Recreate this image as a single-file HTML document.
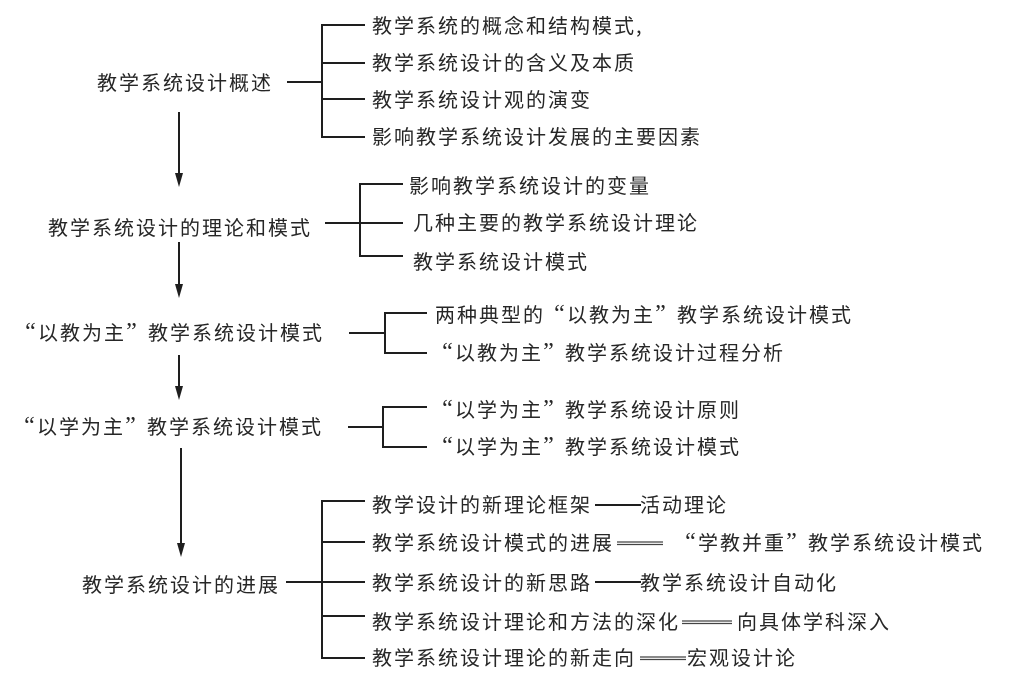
<!DOCTYPE html>
<html>
<head>
<meta charset="utf-8">
<style>
  html, body { margin:0; padding:0; background:#fff; }
  #c { position:relative; width:1026px; height:684px; overflow:hidden; background:#fff; }
  svg { position:absolute; left:0; top:0; }
  .t { position:absolute; white-space:nowrap; font-family:"Noto Sans CJK SC", "WenQuanYi Zen Hei", sans-serif;
       font-size:20px; letter-spacing:2px; line-height:24px; color:#262626; }
  .ql, .qr { display:inline-block; width:22px; height:24px; line-height:24px; letter-spacing:0;
       font-family:"Liberation Serif", serif; font-size:24px; box-sizing:border-box; vertical-align:top; }
  .ql { text-align:center; padding-left:7px; }
  .qr { text-align:center; padding-right:11px; }
</style>
</head>
<body>
<div id="c">
<svg width="1026" height="684" viewBox="0 0 1026 684">
  <g stroke="#1e1e1e" stroke-width="2" fill="none">
    <line x1="287" y1="82" x2="322" y2="82"/>
    <line x1="322" y1="25" x2="322" y2="137"/>
    <line x1="321" y1="25" x2="365" y2="25"/>
    <line x1="321" y1="63" x2="365" y2="63"/>
    <line x1="321" y1="99" x2="365" y2="99"/>
    <line x1="321" y1="137" x2="365" y2="137"/>
    <line x1="325" y1="223" x2="360" y2="223"/>
    <line x1="360" y1="184" x2="360" y2="256"/>
    <line x1="359" y1="184" x2="403" y2="184"/>
    <line x1="359" y1="223" x2="403" y2="223"/>
    <line x1="359" y1="256" x2="403" y2="256"/>
    <line x1="349" y1="333" x2="385" y2="333"/>
    <line x1="385" y1="313" x2="385" y2="353"/>
    <line x1="384" y1="313" x2="427" y2="313"/>
    <line x1="384" y1="353" x2="427" y2="353"/>
    <line x1="348" y1="427" x2="383" y2="427"/>
    <line x1="383" y1="407" x2="383" y2="447"/>
    <line x1="382" y1="407" x2="427" y2="407"/>
    <line x1="382" y1="447" x2="427" y2="447"/>
    <line x1="286" y1="582" x2="322" y2="582"/>
    <line x1="322" y1="501" x2="322" y2="658"/>
    <line x1="321" y1="501" x2="365" y2="501"/>
    <line x1="321" y1="542" x2="365" y2="542"/>
    <line x1="321" y1="582" x2="365" y2="582"/>
    <line x1="321" y1="616" x2="365" y2="616"/>
    <line x1="321" y1="658" x2="365" y2="658"/>
    <line x1="179" y1="112" x2="179" y2="176"/>
    <line x1="179" y1="242" x2="179" y2="287"/>
    <line x1="179" y1="355" x2="179" y2="389"/>
    <line x1="181" y1="448" x2="181" y2="546"/>
    <line x1="595" y1="505" x2="641" y2="505"/>
    <line x1="595" y1="582" x2="641" y2="582"/>
  </g>
  <g fill="#1e1e1e">
    <polygon points="175,173 183,173 179,187"/>
    <polygon points="175,284 183,284 179,298"/>
    <polygon points="175,386 183,386 179,400"/>
    <polygon points="177,543 185,543 181,557"/>
  </g>
  <g stroke="#444" stroke-width="1.2" fill="none">
    <line x1="617" y1="542" x2="663" y2="542"/>
    <line x1="617" y1="544.5" x2="663" y2="544.5"/>
    <line x1="682" y1="621" x2="732" y2="621"/>
    <line x1="682" y1="623.5" x2="732" y2="623.5"/>
    <line x1="640" y1="657" x2="686" y2="657"/>
    <line x1="640" y1="659.5" x2="686" y2="659.5"/>
  </g>
</svg>

<div class="t" style="left:97px;top:70px;">教学系统设计概述</div>
<div class="t" style="left:48px;top:215px;">教学系统设计的理论和模式</div>
<div class="t" style="left:16px;top:320px;"><span class="ql">“</span>以教为主<span class="qr">”</span>教学系统设计模式</div>
<div class="t" style="left:15px;top:414px;"><span class="ql">“</span>以学为主<span class="qr">”</span>教学系统设计模式</div>
<div class="t" style="left:82px;top:572px;">教学系统设计的进展</div>

<div class="t" style="left:372px;top:13px;">教学系统的概念和结构模式,</div>
<div class="t" style="left:372px;top:50px;">教学系统设计的含义及本质</div>
<div class="t" style="left:372px;top:87px;">教学系统设计观的演变</div>
<div class="t" style="left:372px;top:124px;">影响教学系统设计发展的主要因素</div>

<div class="t" style="left:409px;top:173px;">影响教学系统设计的变量</div>
<div class="t" style="left:413px;top:210px;">几种主要的教学系统设计理论</div>
<div class="t" style="left:413px;top:249px;">教学系统设计模式</div>

<div class="t" style="left:435px;top:302px;">两种典型的<span class="ql">“</span>以教为主<span class="qr">”</span>教学系统设计模式</div>
<div class="t" style="left:433px;top:340px;"><span class="ql">“</span>以教为主<span class="qr">”</span>教学系统设计过程分析</div>

<div class="t" style="left:433px;top:397px;"><span class="ql">“</span>以学为主<span class="qr">”</span>教学系统设计原则</div>
<div class="t" style="left:433px;top:434px;"><span class="ql">“</span>以学为主<span class="qr">”</span>教学系统设计模式</div>

<div class="t" style="left:372px;top:492px;">教学设计的新理论框架</div>
<div class="t" style="left:640px;top:492px;">活动理论</div>

<div class="t" style="left:372px;top:530px;">教学系统设计模式的进展</div>
<div class="t" style="left:676px;top:530px;"><span class="ql">“</span>学教并重<span class="qr">”</span>教学系统设计模式</div>

<div class="t" style="left:372px;top:570px;">教学系统设计的新思路</div>
<div class="t" style="left:640px;top:570px;">教学系统设计自动化</div>

<div class="t" style="left:372px;top:609px;">教学系统设计理论和方法的深化</div>
<div class="t" style="left:737px;top:609px;">向具体学科深入</div>

<div class="t" style="left:372px;top:645px;">教学系统设计理论的新走向</div>
<div class="t" style="left:687px;top:645px;">宏观设计论</div>
</div>
</body>
</html>
